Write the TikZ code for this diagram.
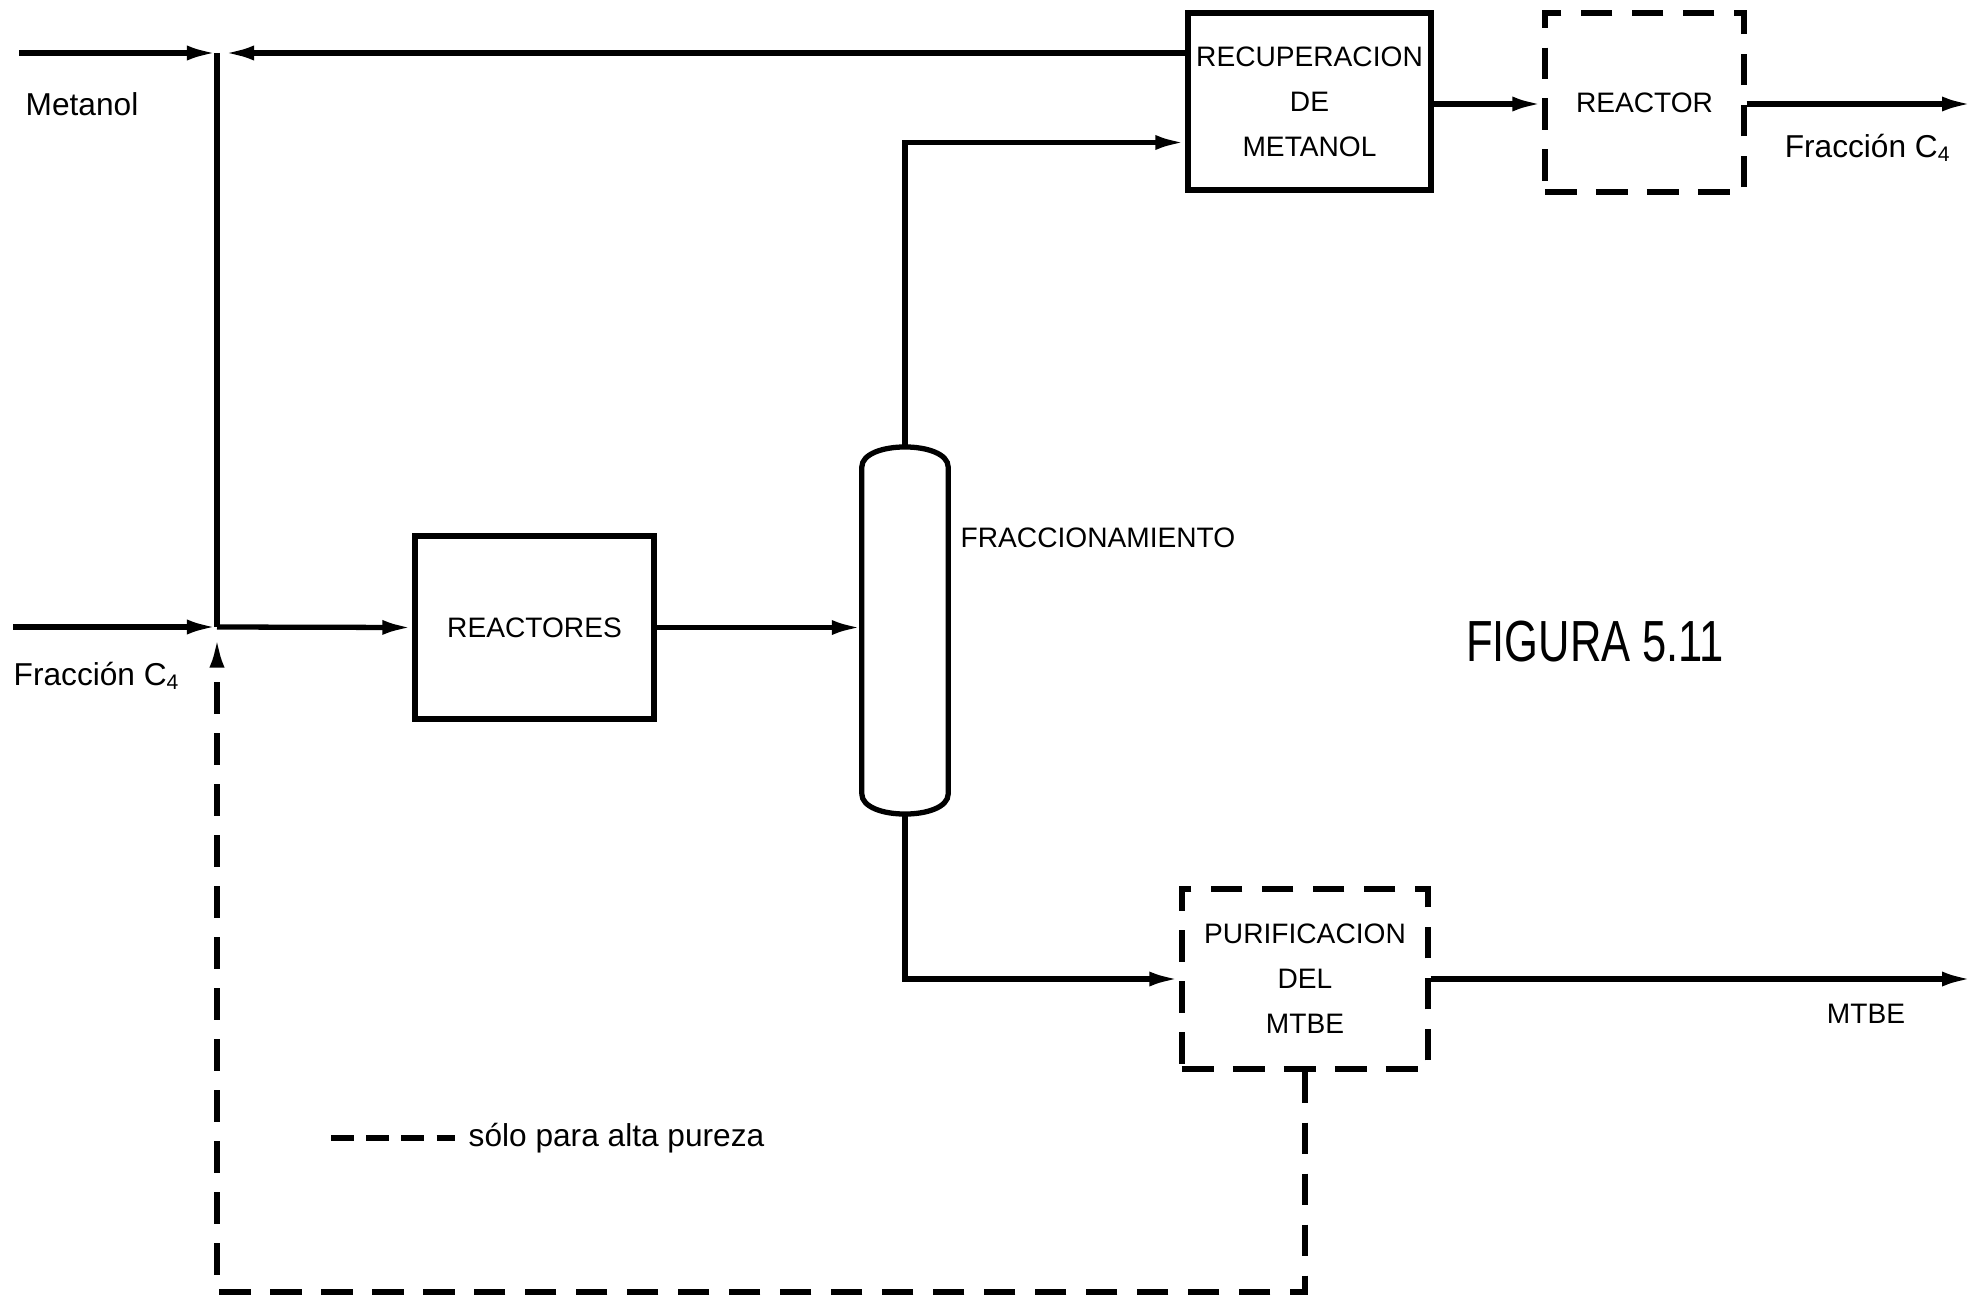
\documentclass[tikz,border=0pt]{standalone}
\usepackage{fontspec}
\usepackage{graphicx}
\setmainfont{Liberation Sans}
\usetikzlibrary{arrows.meta, positioning, calc}

\begin{document}
\begin{tikzpicture}[x=0.01cm, y=-0.01cm,
    unit/.style={draw, line width=1.5pt, inner sep=0pt, align=center,
      font=\fontsize{8}{12.8}\selectfont},
    opt/.style={unit, dash pattern=on 9pt off 5.5pt},
    lbl/.style={font=\fontsize{9}{11}\selectfont, inner sep=0pt},
    caps/.style={font=\fontsize{8}{10}\selectfont, inner sep=0pt},
    pipe/.style={line width=1.5pt},
    flow/.style={pipe, -{Latex[length=3mm, width=1.5mm]}},
    recy/.style={pipe, dash pattern=on 9pt off 5.5pt}]
  \useasboundingbox (0,0) rectangle (1982,1300);
  % equipos
  \node[unit, minimum width=2.43cm, minimum height=1.77cm] (recup) at (1309.5,101.5) {RECUPERACION\\DE\\METANOL};
  \node[opt, minimum width=1.99cm, minimum height=1.79cm] (reac2) at (1644.5,102.5) {REACTOR};
  \node[unit, minimum width=2.39cm, minimum height=1.83cm] (reac) at (534.5,627.5) {REACTORES};
  \node[opt, minimum width=2.46cm, minimum height=1.8cm] (purif) at (1305,979) {PURIFICACION\\DEL\\MTBE};
  \node[minimum width=0.85cm, minimum height=3.25cm, inner sep=0pt] (col) at (905,630.5) {};
  \draw[pipe] (col.south west) -- (col.north west)
    .. controls +(0,-27) and +(0,-27) .. (col.north east) -- (col.south east)
    .. controls +(0,27) and +(0,27) .. (col.south west);
  % puntos de corriente
  \coordinate (jtop) at (217,53);
  \coordinate (jbot) at (217,627);
  \coordinate (coltop) at (905,448);
  \coordinate (colbot) at (905,815);
  \coordinate (metin) at (19,53);
  \coordinate (c4in) at (13,627);
  \coordinate (c4out) at (1972,104);
  \coordinate (mtbeout) at (1972,975);
  \coordinate (back) at (217,1292);
  % corrientes
  \draw[flow] (metin) -- (jtop);
  \draw[flow, shorten >=2pt] (recup.west |- jtop) -- (jtop);
  \draw[pipe] (jtop) -- (jbot);
  \draw[flow] (c4in) -- (jbot);
  \draw[flow] (jbot) -- (reac.west);
  \draw[flow] (reac.east) -- (col.west |- reac.east);
  \draw[flow] (coltop) |- ($(recup.west)+(0,41)$);
  \draw[flow] (recup.east |- c4out) -- (reac2.west |- c4out);
  \draw[flow] (reac2.east |- c4out) -- (c4out);
  \draw[flow] (colbot) |- (purif.west);
  \draw[flow] (purif.east) -- (purif.east -| mtbeout);
  \draw[recy, -{Latex[length=3mm, width=1.5mm]}, shorten >=3pt] (purif.south) |- (back) -- (jbot);
  % textos
  \node[lbl, anchor=west] (metlbl) at (25,104) {Metanol};
  \node[lbl, anchor=west] (c4lbl) at (13,676) {Fracción C\textsubscript{4}};
  \node[lbl] (c4lbl2) at (1868,148) {Fracción C\textsubscript{4}};
  \node[caps] (mtbelbl) at (1866,1014) {MTBE};
  \node[caps, anchor=west] (fraclbl) at (960,538) {FRACCIONAMIENTO};
  \node[font=\fontsize{16.5}{20}\selectfont, inner sep=0pt] (fig) at (1595,642) {\scalebox{0.75}[1]{FIGURA 5.11}};
  \coordinate (leg) at (331,1138);
  \node[lbl, anchor=west] (legtxt) at (468,1138) {sólo para alta pureza};
  \draw[pipe, dash pattern=on 6.5pt off 3.5pt, shorten >=0.13cm] (leg) -- (legtxt.west);
\end{tikzpicture}
\end{document}
